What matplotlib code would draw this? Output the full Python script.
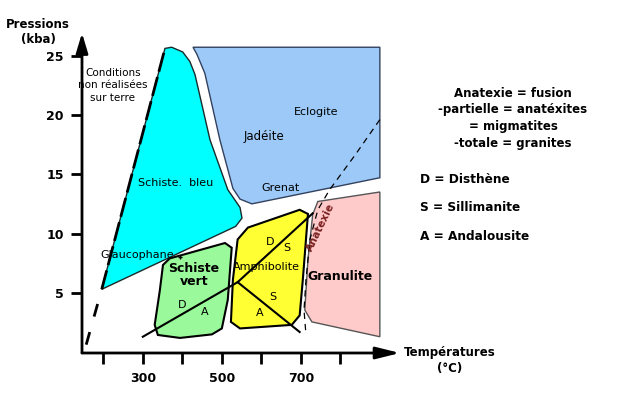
import matplotlib
matplotlib.use("Agg")
import matplotlib.pyplot as plt
from matplotlib.patches import Polygon

# facies fields, (temperature °C, pressure kbar)
bleu_T = [356, 373, 401, 419, 432, 470, 515, 546, 551, 535, 196]
bleu_P = [25.6, 25.7, 25.3, 24.5, 23.4, 17.9, 13.7, 12.2, 11.3, 10.6, 5.3]

eclogite_T = [427, 900, 900, 576, 546, 528, 495, 457, 437]
eclogite_P = [25.7, 25.7, 14.7, 12.5, 12.9, 13.8, 17.9, 23.5, 25.1]

vert_T = [351, 368, 508, 525, 515, 500, 475, 394, 338, 330, 343]
vert_P = [7.35, 7.9, 9.2, 8.8, 4.4, 2.0, 1.5, 1.2, 1.45, 2.3, 5.2]

amphibolite_T = [540, 566, 697, 718, 705, 697, 677, 546, 523, 528]
amphibolite_P = [9.5, 10.5, 12.0, 11.65, 6.1, 3.1, 2.3, 2.0, 2.55, 6.1]

granulite_T = [743, 900, 900, 728, 710, 718, 730]
granulite_P = [12.7, 13.5, 1.3, 2.55, 3.55, 7.8, 11.6]

# limite des conditions terrestres (bord du schiste bleu, puis vers l'origine)
limite_haut_T = [196, 356]
limite_haut_P = [5.3, 25.6]
limite_bas_T = [196, 153]
limite_bas_P = [5.3, 0.2]

# courbe d'anatexie
anatexie_T = [900, 837, 773, 743, 723, 713, 708, 713]
anatexie_P = [19.6, 16.6, 13.7, 12.0, 9.5, 6.1, 3.55, 1.45]

# point triple D / A / S
triple = (540, 5.9)
da_end = (300, 1.3)
ds_end = (730, 11.7)
as_end = (697, 1.7)

yticks = [5, 10, 15, 20, 25]
xticks = [200, 300, 400, 500, 600, 700, 800]
xtick_labels = ["", "300", "", "500", "", "700", ""]

legende = ["Anatexie = fusion", "-partielle = anatéxites", "= migmatites", "-totale = granites"]
mineraux = ["D = Disthène", "S = Sillimanite", "A = Andalousite"]

W, H = 623, 411
fig = plt.figure(figsize=(W / 100, H / 100), dpi=100)
ax = fig.add_axes([82 / W, (H - 353) / H, (400 - 82) / W, (353 - 33) / H])
ax.set_xlim(146, 951)
ax.set_ylim(-0.07, 26.9)
for s in ax.spines.values():
    s.set_visible(False)

# axes with arrow heads
ax.annotate("", xy=(1, 0), xytext=(0, 0), xycoords="axes fraction",
            arrowprops=dict(arrowstyle="-|>,head_length=1.45,head_width=0.36",
                            color="k", lw=2, shrinkA=0, shrinkB=0))
ax.annotate("", xy=(0, 1), xytext=(0, 0), xycoords="axes fraction",
            arrowprops=dict(arrowstyle="-|>,head_length=1.2,head_width=0.36",
                            color="k", lw=2, shrinkA=0, shrinkB=0))

ax.set_yticks(yticks)
ax.set_xticks(xticks)
ax.set_xticklabels(xtick_labels)
ax.tick_params(axis="both", length=8, width=2, direction="out")
ax.tick_params(axis="x", pad=6)
ax.tick_params(axis="y", pad=5)
for lab in ax.get_xticklabels() + ax.get_yticklabels():
    lab.set_fontweight("bold")
    lab.set_fontsize(9)

# fields
ax.add_patch(Polygon(list(zip(eclogite_T, eclogite_P)), closed=True,
                     facecolor="#9cc9f8", edgecolor="#33415e", lw=1))
ax.add_patch(Polygon(list(zip(bleu_T, bleu_P)), closed=True,
                     facecolor="#00ffff", edgecolor="#1a2a2a", lw=1))
ax.add_patch(Polygon(list(zip(vert_T, vert_P)), closed=True,
                     facecolor="#9af99a", edgecolor="k", lw=1.5))
ax.add_patch(Polygon(list(zip(amphibolite_T, amphibolite_P)), closed=True,
                     facecolor="#ffff33", edgecolor="k", lw=1.5))
ax.add_patch(Polygon(list(zip(granulite_T, granulite_P)), closed=True,
                     facecolor="#ffcaca", edgecolor="#555555", lw=1))

ax.plot(limite_haut_T, limite_haut_P, color="k", lw=2, dashes=(7, 2))
ax.plot(limite_bas_T, limite_bas_P, color="k", lw=2, linestyle=(5.0, (4.7, 5.8)))
ax.plot(anatexie_T, anatexie_P, color="k", lw=0.9, dashes=(5, 4))

ax.plot([da_end[0], triple[0], ds_end[0]], [da_end[1], triple[1], ds_end[1]], color="k", lw=1.5)
ax.plot([triple[0], as_end[0]], [triple[1], as_end[1]], color="k", lw=1.5)

fs = 8
ax.text(224, 22.5, "Conditions\nnon réalisées\nsur terre", ha="center", va="center",
        fontsize=7.5, linespacing=1.3)
ax.text(384, 14.25, "Schiste.  bleu", ha="center", va="center", fontsize=fs)
ax.text(285, 8.2, "Glaucophane", ha="center", va="center", fontsize=fs)
ax.plot(394, 8.0, marker="+", color="k", ms=3)
ax.text(606, 18.2, "Jadéite", ha="center", va="center", fontsize=fs + 0.5)
ax.text(738, 20.25, "Eclogite", ha="center", va="center", fontsize=fs)
ax.text(649, 13.85, "Grenat", ha="center", va="center", fontsize=fs)
ax.text(429, 6.5, "Schiste\nvert", ha="center", va="center", fontsize=9,
        fontweight="bold", linespacing=1.05)
ax.text(399, 4.0, "D", ha="center", va="center", fontsize=fs)
ax.text(457, 3.4, "A", ha="center", va="center", fontsize=fs)
ax.text(614, 7.2, "Amphibolite", ha="center", va="center", fontsize=fs)
ax.text(622, 9.3, "D", ha="center", va="center", fontsize=fs)
ax.text(665, 8.8, "S", ha="center", va="center", fontsize=fs)
ax.text(629, 4.65, "S", ha="center", va="center", fontsize=fs)
ax.text(596, 3.3, "A", ha="center", va="center", fontsize=fs)
ax.text(799, 6.35, "Granulite", ha="center", va="center", fontsize=9, fontweight="bold")
ax.text(751, 10.5, "Anatexie", ha="center", va="center", fontsize=7.5,
        fontweight="bold", rotation=64, color="#7a1f1f")

# axis titles
fig.text(38 / W, 1 - 32 / H, "Pressions\n(kba)", ha="center", va="center",
         fontsize=8.5, fontweight="bold", linespacing=1.3)
fig.text(450 / W, 1 - 360 / H, "Températures\n(°C)", ha="center", va="center",
         fontsize=8.5, fontweight="bold", linespacing=1.3)

# notes on the right
for i, t in enumerate(legende):
    fig.text(513 / W, 1 - (93 + 16.7 * i) / H, t, ha="center", va="center",
             fontsize=8.5, fontweight="bold")
for i, t in enumerate(mineraux):
    fig.text(420 / W, 1 - (179 + 28.5 * i) / H, t, ha="left", va="center",
             fontsize=8.7, fontweight="bold")

fig.savefig("out.png", dpi=100)
